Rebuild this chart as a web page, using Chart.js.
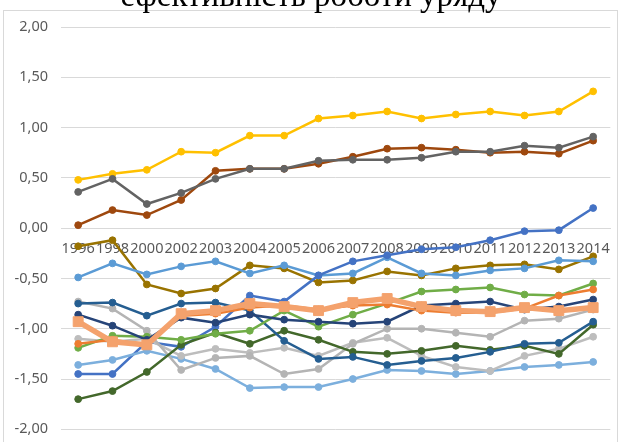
<!DOCTYPE html>
<html>
<head>
<meta charset="utf-8">
<script src="https://cdn.jsdelivr.net/npm/chart.js@4/dist/chart.umd.min.js"></script>
<style>
    html, body { margin: 0; padding: 0; background: #fff; overflow: hidden; }
    #wrap { position: relative; width: 622px; height: 442px; overflow: hidden; }
    #frame {
        position: absolute; left: 3px; top: 10px; width: 615px; height: 440px;
        border: 1px solid #d9d9d9; box-sizing: border-box;
    }
    #title {
        position: absolute; left: 0; top: -21px; width: 622px; text-align: center;
        font-family: "Liberation Serif", "Times New Roman", serif; font-size: 33px; line-height: 33px;
        color: #000; white-space: nowrap;
    }
    canvas { position: absolute; left: 0; top: 0; }
</style>
</head>
<body>
<div id="wrap">
    <div id="frame"></div>
    <canvas id="chart" width="622" height="451"></canvas>
    <div id="title">ефективність роботи уряду</div>
</div>
<script>
// ── Data ─────────────────────────────────────────────────────
const years = ['1996','1998','2000','2002','2003','2004','2005','2006','2007','2008','2009','2010','2011','2012','2013','2014'];

const yTicks = [-2, -1.5, -1, -0.5, 0, 0.5, 1, 1.5, 2];

const gold       = [0.48, 0.54, 0.58, 0.76, 0.75, 0.92, 0.92, 1.09, 1.12, 1.16, 1.09, 1.13, 1.16, 1.12, 1.16, 1.36];
const darkGray   = [0.36, 0.49, 0.24, 0.35, 0.49, 0.59, 0.59, 0.67, 0.68, 0.68, 0.70, 0.76, 0.76, 0.82, 0.80, 0.91];
const brown      = [0.03, 0.18, 0.13, 0.28, 0.57, 0.59, 0.59, 0.64, 0.71, 0.79, 0.80, 0.78, 0.75, 0.76, 0.74, 0.87];
const blue       = [-1.45, -1.45, -1.13, -1.18, -0.98, -0.67, -0.73, -0.47, -0.33, -0.27, -0.21, -0.19, -0.12, -0.03, -0.02, 0.20];
const olive      = [-0.18, -0.12, -0.56, -0.65, -0.60, -0.37, -0.40, -0.54, -0.52, -0.43, -0.47, -0.40, -0.37, -0.36, -0.41, -0.28];
const lightBlue  = [-0.49, -0.35, -0.46, -0.38, -0.33, -0.45, -0.37, -0.47, -0.45, -0.29, -0.45, -0.47, -0.42, -0.40, -0.32, -0.33];
const steelBlue  = [-0.75, -0.74, -0.87, -0.75, -0.74, -0.82, -1.12, -1.30, -1.28, -1.36, -1.32, -1.29, -1.23, -1.15, -1.14, -0.93];
const navy       = [-0.86, -0.97, -1.11, -0.89, -0.94, -0.86, -0.91, -0.93, -0.95, -0.93, -0.77, -0.75, -0.73, -0.81, -0.78, -0.71];
const orange     = [-1.15, -1.11, -1.16, -0.87, -0.85, -0.79, -0.77, -0.81, -0.77, -0.76, -0.82, -0.84, -0.84, -0.80, -0.67, -0.61];
const ukraine    = [-0.93, -1.13, -1.16, -0.85, -0.82, -0.75, -0.78, -0.82, -0.74, -0.70, -0.78, -0.82, -0.83, -0.79, -0.82, -0.79];
const green      = [-1.19, -1.07, -1.08, -1.11, -1.05, -1.02, -0.82, -0.98, -0.86, -0.75, -0.63, -0.61, -0.59, -0.66, -0.67, -0.55];
const darkGreen  = [-1.70, -1.62, -1.43, -1.16, -1.04, -1.15, -1.02, -1.11, -1.23, -1.25, -1.22, -1.17, -1.21, -1.17, -1.25, -0.96];
const grayA      = [-0.73, -0.80, -1.02, -1.41, -1.29, -1.27, -1.45, -1.40, -1.15, -1.00, -1.00, -1.04, -1.08, -0.92, -0.90, -0.81];
const grayB      = [-1.10, -1.13, -1.10, -1.27, -1.20, -1.24, -1.19, -1.27, -1.14, -1.09, -1.27, -1.38, -1.42, -1.27, -1.20, -1.08];
const paleBlue   = [-1.36, -1.31, -1.22, -1.30, -1.40, -1.59, -1.58, -1.58, -1.50, -1.41, -1.42, -1.45, -1.42, -1.38, -1.36, -1.33];

// ── Helpers ──────────────────────────────────────────────────
const fmt = (v) => v.toFixed(2).replace('.', ',');

function line(label, data, color) {
    return {
        label, data,
        borderColor: color,
        backgroundColor: color,
        pointBackgroundColor: color,
        pointBorderColor: color,
        borderWidth: 2.5,
        pointRadius: 3.4,
        pointBorderWidth: 1,
        tension: 0,
        fill: false
    };
}

// first dataset is drawn on top
const datasets = [
    Object.assign(line('Україна', ukraine, '#F4A26D'), {
        borderWidth: 5.5, pointStyle: 'rect', pointRadius: 7
    }),
    line('s2', orange, '#ED7D31'),
    line('s3', navy, '#264478'),
    line('s4', green, '#70AD47'),
    line('s5', steelBlue, '#255E91'),
    line('s6', darkGreen, '#43682B'),
    line('s7', grayA, '#B4B4B4'),
    line('s8', grayB, '#BDBDBD'),
    line('s9', paleBlue, '#7CAFDD'),
    line('s10', blue, '#4472C4'),
    line('s11', lightBlue, '#5B9BD5'),
    line('s12', olive, '#997300'),
    line('s13', darkGray, '#636363'),
    line('s14', brown, '#9E480E'),
    line('s15', gold, '#FFC000')
];

const tickFamily = '"Noto Sans", "Open Sans", sans-serif';

new Chart(document.getElementById('chart').getContext('2d'), {
    type: 'line',
    data: { labels: years, datasets },
    options: {
        responsive: false,
        animation: false,
        layout: { padding: { left: 0, right: 8, top: 27, bottom: 0 } },
        plugins: {
            legend: { display: false },
            tooltip: { enabled: false },
            title: { display: false }
        },
        scales: {
            x: {
                position: { y: 0 },
                offset: true,
                grid: { display: false, drawTicks: false },
                border: { display: true, color: '#d9d9d9', width: 1 },
                ticks: {
                    autoSkip: false, maxRotation: 0, minRotation: 0,
                    padding: 12,
                    color: '#595959',
                    font: { family: tickFamily, size: 14.5 }
                }
            },
            y: {
                min: -2, max: 2,
                afterBuildTicks: (s) => { s.ticks = yTicks.map(v => ({ value: v })); },
                afterFit: (s) => { s.width = 61; },
                grid: { color: '#d9d9d9', lineWidth: 1, drawTicks: false },
                border: { display: false },
                ticks: {
                    padding: 13,
                    color: '#595959',
                    font: { family: tickFamily, size: 14.5 },
                    callback: (v) => fmt(v)
                }
            }
        }
    }
});
</script>
</body>
</html>
